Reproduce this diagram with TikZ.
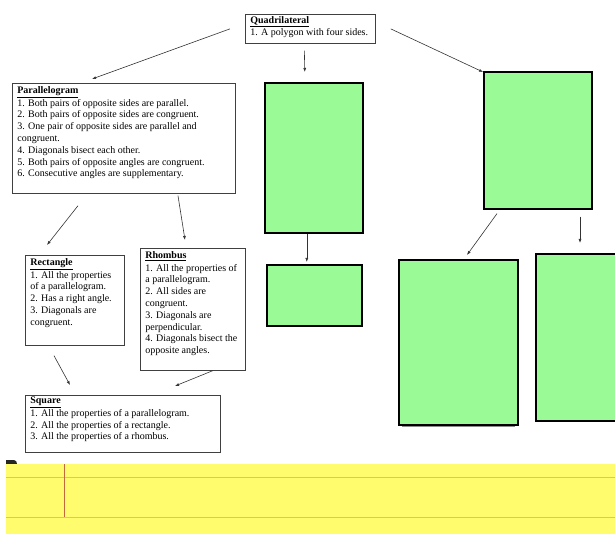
\documentclass[tikz,border=0pt]{standalone}
\usepackage{fontspec}
\setmainfont{Liberation Serif}
\usepackage{xcolor}
\usepackage{tikz}
\usetikzlibrary{calc,arrows.meta}

\definecolor{boxgreen}{HTML}{9AFA96}
\definecolor{padyellow}{HTML}{FFFD6E}
\definecolor{padline}{HTML}{B6C6CC}
\definecolor{padmargin}{HTML}{C4683C}

% fixed-size box content, text kept at the top
\newcommand{\propbox}[3]{\parbox[c][#2][t]{#1}{\raggedright #3}}

\begin{document}
\begin{tikzpicture}[x=1pt,y=-1pt,
		every node/.style={font=\fontsize{10}{11.8}\selectfont},
		textbox/.style={draw=black!75, line width=0.7pt, anchor=north west, inner xsep=5pt, inner ysep=3.5pt},
		greenbox/.style={draw=black, line width=1.6pt, fill=boxgreen, anchor=north west, inner sep=0pt},
		conn/.style={draw=black!80, line width=0.6pt, -{Latex[length=4pt,width=3pt]}}]
			\useasboundingbox (0,0) rectangle (615,534);

			% text boxes
			\node[textbox, inner ysep=2pt] (quad) at (245,14)
			{\propbox{120pt}{25pt}{\textbf{\underline{Quadrilateral}}\\[0.5pt]1. A polygon with four sides.}};
			\node[textbox] (para) at (12,83)
			{\propbox{213pt}{103pt}{\textbf{\underline{Parallelogram}}\\[0.5pt]
					1. Both pairs of opposite sides are parallel.\\
					2. Both pairs of opposite sides are congruent.\\
					3. One pair of opposite sides are parallel and\\congruent.\\
					4. Diagonals bisect each other.\\
					5. Both pairs of opposite angles are congruent.\\
					6. Consecutive angles are supplementary.}};
			\node[textbox] (rect) at (25,255)
			{\propbox{89pt}{83pt}{\textbf{\underline{Rectangle}}\\[0.5pt]
					1. All the properties\\of a parallelogram.\\
					2. Has a right angle.\\
					3. Diagonals are\\congruent.}};
			\node[textbox] (rhomb) at (140,248)
			{\propbox{95pt}{115pt}{\textbf{\underline{Rhombus}}\\[0.5pt]
					1. All the properties of\\a parallelogram.\\
					2. All sides are\\congruent.\\
					3. Diagonals are\\perpendicular.\\
					4. Diagonals bisect the\\opposite angles.}};
			\node[textbox, inner ysep=2pt] (square) at (25,395)
			{\propbox{185pt}{53pt}{\textbf{\underline{Square}}\\[0.5pt]
					1. All the properties of a parallelogram.\\
					2. All the properties of a rectangle.\\
					3. All the properties of a rhombus.}};

			% empty green boxes
			\node[greenbox, minimum width=98pt, minimum height=150pt] (g1) at (264,82) {};
			\node[greenbox, minimum width=95pt, minimum height=61pt] (g2) at (266,264) {};
			\node[greenbox, minimum width=108pt, minimum height=137pt] (g3) at (483,71) {};
			\draw[black!45, line width=1pt] (402,426) -- (515,426);
			\node[greenbox, minimum width=119pt, minimum height=165pt] (g4) at (398,259) {};
			\node[greenbox, minimum width=95pt, minimum height=167pt] (g5) at (535,253) {};

			% connectors
			\draw[conn] ($(quad.west)+(-15,0)$) -- ($(para.north west)+(80,-4)$);
			\draw[conn] ($(quad.south)+(-6,7)$) -- ($(g1.north)+(-9,-10)$);
			\draw[conn] ($(quad.east)+(15,0)$) -- ($(g3.north west)+(0,1)$);
			\draw[conn] ($(para.south west)+(66,12)$) -- ($(rect.north west)+(22,-10)$);
			\draw[conn] ($(para.south west)+(166,2)$) -- ($(rhomb.north west)+(45,-8)$);
			\draw[conn] ($(rect.south west)+(29,10)$) -- ($(square.north west)+(45,-10)$);
			\draw[conn] ($(rhomb.south east)+(-33,0)$) -- ($(square.north west)+(150,-9)$);
			\draw[conn] ($(g1.south)+(-7,0)$) -- ($(g2.north)+(-7.5,-2)$);
			\draw[conn] ($(g3.south west)+(14,4)$) -- ($(g4.north west)+(69,-4)$);
			\draw[conn] ($(g3.south west)+(97,7)$) -- ($(g5.north west)+(45,-10)$);

			% notepad strip
			\fill[black!85] (6,464) -- (6,460) -- (14,460) to[out=0,in=90] (17,464) -- cycle;
			\fill[padyellow] (6,464) rectangle (615,534);
			\draw[padline, line width=1pt] (6,477.5) -- (615,477.5);
			\draw[padline, line width=1pt] (6,517) -- (615,517);
			\draw[padmargin, line width=0.9pt] (64,464) -- (64,517);
		\end{tikzpicture}
\end{document}
